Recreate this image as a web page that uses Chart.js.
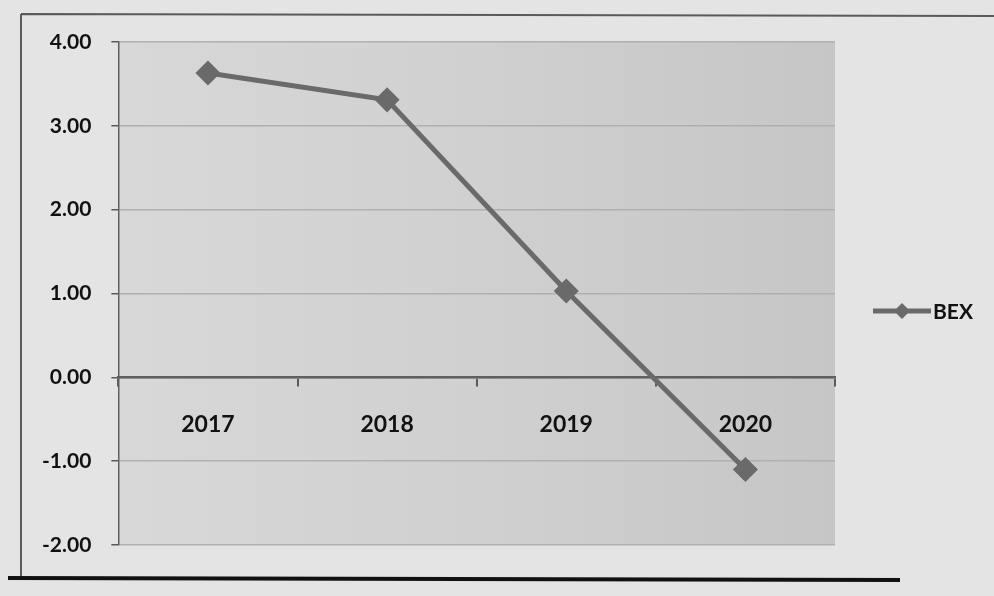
<!DOCTYPE html>
<html>
<head>
<meta charset="utf-8">
<script src="https://cdn.jsdelivr.net/npm/chart.js@4/dist/chart.umd.min.js"></script>
<style>
  html, body { margin: 0; padding: 0; background: #e4e4e4; }
  #wrap { width: 994px; height: 596px; }
</style>
</head>
<body>
<div id="wrap"><canvas id="bexChart" width="994" height="596"></canvas></div>
<script>
// chart values
const years = ['2017', '2018', '2019', '2020'];
const bexValues = [3.63, 3.31, 1.03, -1.10];
const seriesName = 'BEX';
const yMin = -2;
const yMax = 4;

const lineColor = '#6a6a6a';
const textColor = '#111111';
const fontFamily = 'Lato, "Open Sans", sans-serif';

// grey plot area and the frame of the scanned chart
const backdrop = {
    id: 'backdrop',
    beforeDraw(chart) {
        const { ctx, chartArea: a, width } = chart;
        ctx.save();
        const g = ctx.createLinearGradient(a.left, 0, a.right, 0);
        g.addColorStop(0, '#d8d8d8');
        g.addColorStop(0.5, '#d0d0d0');
        g.addColorStop(1, '#c6c6c6');
        ctx.fillStyle = g;
        ctx.fillRect(a.left, a.top, a.right - a.left, a.bottom - a.top);
        // frame lines
        ctx.strokeStyle = '#5a5a5a';
        ctx.lineWidth = 2;
        ctx.beginPath();
        ctx.moveTo(21, 14);
        ctx.lineTo(21, 578);
        ctx.moveTo(21, 14);
        ctx.lineTo(width, 16);
        ctx.stroke();
        ctx.strokeStyle = '#111';
        ctx.lineWidth = 4;
        ctx.beginPath();
        ctx.moveTo(8, 578);
        ctx.lineTo(900, 580);
        ctx.stroke();
        ctx.restore();
    }
};

// legend: short line with a diamond, then the series name
const sideLegend = {
    id: 'sideLegend',
    afterDraw(chart) {
        const { ctx, chartArea: a } = chart;
        const ds = chart.data.datasets[0];
        const x0 = a.right + 38, y = 311;
        ctx.save();
        ctx.strokeStyle = lineColor;
        ctx.lineWidth = 5;
        ctx.beginPath();
        ctx.moveTo(x0, y);
        ctx.lineTo(x0 + 58, y);
        ctx.stroke();
        ctx.fillStyle = lineColor;
        ctx.beginPath();
        ctx.moveTo(x0 + 29, y - 8);
        ctx.lineTo(x0 + 37, y);
        ctx.lineTo(x0 + 29, y + 8);
        ctx.lineTo(x0 + 21, y);
        ctx.closePath();
        ctx.fill();
        ctx.fillStyle = textColor;
        ctx.font = 'bold 21px ' + fontFamily;
        ctx.textBaseline = 'middle';
        ctx.fillText(ds.label, x0 + 60, y + 1);
        ctx.restore();
    }
};

new Chart(document.getElementById('bexChart').getContext('2d'), {
    type: 'line',
    data: {
        labels: years,
        datasets: [{
            label: seriesName,
            data: bexValues,
            borderColor: lineColor,
            backgroundColor: lineColor,
            borderWidth: 5,
            pointStyle: 'rectRot',
            pointRadius: 9,
            pointHoverRadius: 9,
            tension: 0
        }]
    },
    options: {
        responsive: false,
        animation: false,
        layout: { padding: { left: 22, right: 159, top: 42, bottom: 51 } },
        plugins: {
            legend: { display: false },
            tooltip: { enabled: false }
        },
        scales: {
            x: {
                position: { y: 0 },
                offset: true,
                grid: {
                    offset: true,
                    drawOnChartArea: false,
                    drawTicks: true,
                    tickLength: 8,
                    color: '#5a5a5a',
                    lineWidth: 2
                },
                border: { color: '#5f5f5f', width: 2.5 },
                ticks: {
                    color: textColor,
                    padding: 25,
                    font: { family: fontFamily, size: 23, weight: 'bold' }
                }
            },
            y: {
                min: yMin,
                max: yMax,
                grid: {
                    color: '#b0b0b0',
                    lineWidth: 1.5,
                    tickLength: 7,
                    tickColor: '#5a5a5a'
                },
                border: { color: '#5f5f5f', width: 1.5 },
                ticks: {
                    stepSize: 1,
                    color: textColor,
                    padding: 20,
                    font: { family: fontFamily, size: 21, weight: 'bold' },
                    callback: v => v.toFixed(2)
                }
            }
        }
    },
    plugins: [backdrop, sideLegend]
});
</script>
</body>
</html>
